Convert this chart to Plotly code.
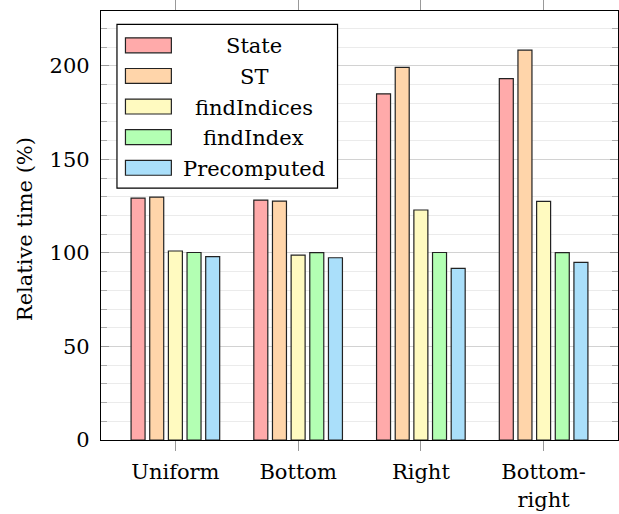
import plotly.graph_objects as go

categories = ["Uniform", "Bottom", "Right", "Bottom-right"]
tick_labels = ["Uniform", "Bottom", "Right", "Bottom-<br>right"]
series_names = ["State", "ST", "findIndices", "findIndex", "Precomputed"]
state = [129.3, 128.2, 185.0, 193.1]
st = [129.8, 127.7, 199.1, 208.3]
find_indices = [101.0, 98.8, 122.9, 127.5]
find_index = [100.2, 100.1, 100.2, 100.1]
precomputed = [98.0, 97.4, 91.7, 94.9]
series_values = [state, st, find_indices, find_index, precomputed]
colors = ["#ffaaaa", "#ffd5aa", "#fffac0", "#b3ffb3", "#aadffa"]

FONT = "DejaVu Serif"
FS = 21
W, H = 619, 514
L, R, T, B = 101, 0, 9, 74
pw, ph = W - L - R, H - T - B

def px(x):
    return (x - L) / pw

def py(y):
    return (H - B - y) / ph

fig = go.Figure()
for name, vals, c in zip(series_names, series_values, colors):
    fig.add_trace(go.Bar(x=categories, y=vals, name=name,
                         marker=dict(color=c, line=dict(color="#222222", width=1.2)),
                         showlegend=False))

# custom legend (pgfplots style)
shapes = [dict(type="rect", xref="paper", yref="paper",
               x0=px(117), x1=px(338), y0=py(187), y1=py(22.5),
               line=dict(color="black", width=1.2), fillcolor="white", layer="above")]
annotations = []
for i, (name, c) in enumerate(zip(series_names, colors)):
    yc = 43.5 + i * 30.75
    shapes.append(dict(type="rect", xref="paper", yref="paper",
                       x0=px(125.5), x1=px(171.5), y0=py(yc + 7.5), y1=py(yc - 7.5),
                       line=dict(color="#222222", width=1.2), fillcolor=c, layer="above"))
    annotations.append(dict(x=px(254), y=py(yc + 1), xref="paper", yref="paper",
                            text=name, showarrow=False, xanchor="center", yanchor="middle",
                            font=dict(family=FONT, size=FS, color="black")))

annotations.append(dict(x=px(25), y=py(228), xref="paper", yref="paper",
                        text="Relative time (%)", textangle=-90, showarrow=False,
                        xanchor="center", yanchor="middle",
                        font=dict(family=FONT, size=FS, color="black")))

fig.update_layout(
    width=W, height=H,
    margin=dict(l=L, r=R, t=T, b=B, pad=0),
    paper_bgcolor="white", plot_bgcolor="white",
    bargap=0.24, bargroupgap=0.25, barmode="group",
    font=dict(family=FONT, size=FS, color="black"),
    shapes=shapes, annotations=annotations,
    showlegend=False,
)
fig.update_xaxes(
    type="category", range=[-0.606, 3.606],
    tickvals=categories, ticktext=tick_labels,
    ticks="outside", ticklen=10, tickcolor="#999999", tickwidth=1,
    showline=True, linecolor="black", linewidth=1.2, mirror="ticks",
    showgrid=False, zeroline=False, ticklabelstandoff=3,
    tickfont=dict(family=FONT, size=FS, color="black"),
)
fig.update_yaxes(
    range=[0, ph / 1.88], dtick=50, tick0=0,
    ticks="inside", ticklen=8, tickcolor="#999999", tickwidth=1,
    showline=True, linecolor="black", linewidth=1.2, mirror="ticks",
    showgrid=True, gridcolor="#d2d2d2", gridwidth=1.3,
    zeroline=False, ticklabelstandoff=6,
    minor=dict(dtick=10, ticks="inside", ticklen=6, tickcolor="#aaaaaa",
               showgrid=True, gridcolor="#ebebeb", gridwidth=1),
    tickfont=dict(family=FONT, size=FS, color="black"),
)

fig.write_html("out.html")
